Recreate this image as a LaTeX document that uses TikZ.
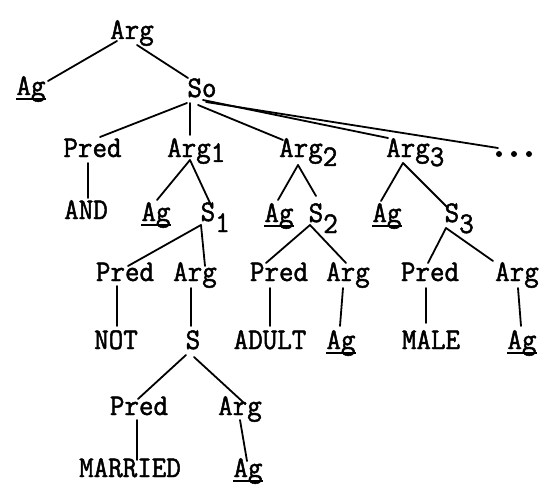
\documentclass[tikz,border=0pt]{standalone}
\usepackage{fontspec}
\usetikzlibrary{calc}
% typewriter face, slightly heavier and narrower than the stock one
\newfontfamily\typewriter{Latin Modern Mono}[FakeBold=1.6, FakeStretch=0.94]
% underlined word (rule sits just below the baseline, as on a typewriter)
\newcommand\ulword[1]{\setbox0=\hbox{#1}\rlap{\rule[-5pt]{\wd0}{1.8pt}}\box0}
% lowered index that does not count towards the node width
\newcommand\lowered[2]{\rlap{\raisebox{-#1}{#2}}}
\begin{document}
\begin{tikzpicture}[x=1pt,y=-1pt,
  lbl/.style={anchor=base, inner sep=0pt,
              font=\fontsize{30}{32}\selectfont\typewriter},
  link/.style={line width=1.8pt, line cap=round}]
\useasboundingbox (0,0) rectangle (549,487);

% ---- level 0/1
\node[lbl] (root) at (132,39) {Arg};
\node[lbl] (ag0)  at (31,95)  {\ulword{Ag}};
\node[lbl] (so)   at (202,97) {So};

% ---- level 2
\node[lbl] (pred1) at (92.5,157) {Pred};
\node[lbl] (argA)  at (189,157)  {Arg\lowered{5pt}{1}};
\node[lbl] (argB)  at (301,157)  {Arg\lowered{9pt}{2}};
\node[lbl] (argC)  at (408,157)  {Arg\lowered{9pt}{3}};
\node[lbl] (dots)  at (514,157)  {\phantom{...}};
\foreach \dx in {-15,0,15}
  \fill ($(dots.base)+(\dx,-3)$) circle (3);

% ---- level 3
\node[lbl] (and) at (86,219)  {AND};
\node[lbl] (agA) at (156,221) {\ulword{Ag}};
\node[lbl] (sA)  at (208,221) {S\lowered{11pt}{1}};
\node[lbl] (agB) at (279,222) {\ulword{Ag}};
\node[lbl] (sB)  at (316,222) {S\lowered{11pt}{2}};
\node[lbl] (agC) at (387,222) {\ulword{Ag}};
\node[lbl] (sC)  at (452,222) {S\lowered{11pt}{3}};

% ---- level 4
\node[lbl] (predA) at (125,281) {Pred};
\node[lbl] (argD)  at (195,281) {Arg};
\node[lbl] (predB) at (279,281) {Pred};
\node[lbl] (argE)  at (348,281) {Arg};
\node[lbl] (predC) at (430,281) {Pred};
\node[lbl] (argF)  at (517,281) {Arg};

% ---- level 5
\node[lbl] (not)   at (116,349) {NOT};
\node[lbl] (sD)    at (193,349) {S};
\node[lbl] (adult) at (270,349) {ADULT};
\node[lbl] (agD)   at (341,349) {\ulword{Ag}};
\node[lbl] (male)  at (431,349) {MALE};
\node[lbl] (agE)   at (522,349) {\ulword{Ag}};

% ---- level 6/7
\node[lbl] (predD)   at (139,415) {Pred};
\node[lbl] (argG)    at (240,415) {Arg};
\node[lbl] (married) at (130,477) {MARRIED};
\node[lbl] (agF)     at (248,477) {\ulword{Ag}};

% ---- branches
\draw[link] ($(root.base)+(-15,2)$) -- ($(ag0.base)+(17,-14)$);
\draw[link] ($(root.base)+(5,6)$)   -- ($(so.base)+(-14,-19)$);

\draw[link] ($(so.base)+(-15,6)$) -- ($(pred1.base)+(7.5,-20)$);
\draw[link] ($(so.base)+(-12,6)$) -- ($(argA.base)+(1,-22)$);
\draw[link] ($(so.base)+(-4,8)$)  -- ($(argB.base)+(-18,-17)$);
\draw[link] ($(so.base)+(1,3)$)   -- ($(argC.base)+(-20,-19)$);
\draw[link] ($(so.base)+(4,5)$)   -- ($(dots.base)+(-16,-9)$);

\draw[link] ($(pred1.base)+(-4.5,6)$) -- ($(and.base)+(2,-21)$);
\draw[link] ($(argA.base)+(1,3)$)  -- ($(agA.base)+(1,-21)$);
\draw[link] ($(argA.base)+(1,3)$)  -- ($(sA.base)+(2,-18)$);
\draw[link] ($(argB.base)+(-3,8)$) -- ($(agB.base)+(-1,-22)$);
\draw[link] ($(argB.base)+(-3,8)$) -- ($(sB.base)+(0,-26)$);
\draw[link] ($(argC.base)+(-5,6)$) -- ($(agC.base)+(-6,-21)$);
\draw[link] ($(argC.base)+(-5,6)$) -- ($(sC.base)+(-4,-14)$);

\draw[link] ($(sA.base)+(-7,4)$) -- ($(predA.base)+(3,-15)$);
\draw[link] ($(sA.base)+(-7,4)$) -- ($(argD.base)+(10,-15)$);
\draw[link] ($(sB.base)+(-6,3)$) -- ($(predB.base)+(-13,-18)$);
\draw[link] ($(sB.base)+(-6,3)$) -- ($(argE.base)+(-2,-18)$);
\draw[link] ($(sC.base)+(-6,6)$) -- ($(predC.base)+(-2,-18)$);
\draw[link] ($(sC.base)+(-6,6)$) -- ($(argF.base)+(-24,-20)$);

\draw[link] ($(predA.base)+(-8,5)$) -- ($(not.base)+(1,-23)$);
\draw[link] ($(argD.base)+(-4,7)$)  -- ($(sD.base)+(-2,-23)$);
\draw[link] ($(predB.base)+(-9,7)$) -- ($(adult.base)+(0,-23)$);
\draw[link] ($(argE.base)+(-5,7)$)  -- ($(agD.base)+(-1,-23)$);
\draw[link] ($(predC.base)+(-4,7)$) -- ($(male.base)+(-5,-26)$);
\draw[link] ($(argF.base)+(1,7)$)   -- ($(agE.base)+(-1,-23)$);

\draw[link] ($(sD.base)+(-7,6)$) -- ($(predD.base)+(-1,-16)$);
\draw[link] ($(sD.base)+(1,8)$)  -- ($(argG.base)+(3,-13)$);

\draw[link] ($(predD.base)+(-2,5)$) -- ($(married.base)+(7,-17)$);
\draw[link] ($(argG.base)+(0,5)$)   -- ($(agF.base)+(-1,-16)$);
\end{tikzpicture}
\end{document}
